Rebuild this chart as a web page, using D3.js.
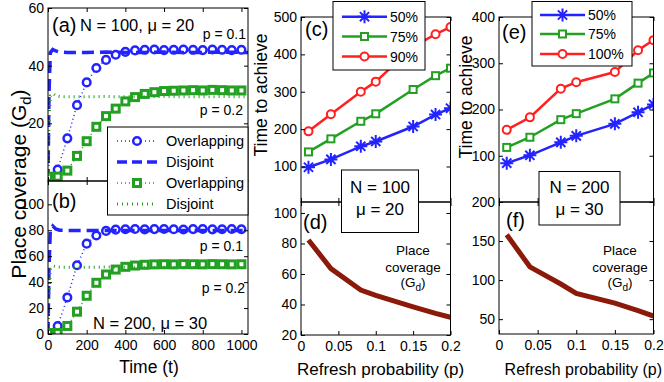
<!DOCTYPE html>
<html>
<head>
<meta charset="utf-8">
<script src="https://cdn.jsdelivr.net/npm/d3@7"></script>
<style>
  body { margin: 0; background: #fff; }
  svg { display: block; }
</style>
</head>
<body>
<svg id="chart" width="664" height="382"></svg>
<script>
// ---- values ----
const timeSteps = [0, 50, 100, 150, 200, 250, 300, 350, 400, 450, 500, 550, 600, 650, 700, 750, 800, 850, 900, 950, 1000];
// (a) N = 100, mu = 20
const overlapA01 = [1.5, 4, 14.8, 26.3, 34.2, 39.2, 42, 43.8, 44.8, 45.3, 45.5, 45.6, 45.4, 45.5, 45.6, 45.5, 45.4, 45.6, 45.5, 45.4, 45.5];
const overlapA02 = [1.5, 1.5, 3.6, 8.7, 13.8, 18.8, 22.5, 25.1, 27.6, 29.1, 30.2, 30.8, 31.2, 31.3, 31.4, 31.5, 31.4, 31.6, 31.5, 31.4, 31.4];
// (b) N = 200, mu = 30
const overlapB01 = [1, 6.2, 28.2, 53, 69.7, 76, 79.5, 80.5, 80.8, 81, 80.7, 80.9, 81, 80.8, 80.6, 80.9, 81, 80.7, 80.8, 81, 80.8];
const overlapB02 = [0.8, 0.8, 6.2, 17.2, 29.5, 39.5, 45.9, 49.7, 51.8, 52.8, 53.4, 53.7, 53.8, 53.7, 53.9, 53.8, 53.7, 53.9, 53.8, 53.7, 53.8];

const disjointTimes = [0, 5, 12, 25, 40, 60, 100, 200, 300, 400, 500, 600, 700, 800, 900, 1000, 1034];
const disjointA01 = [0, 30, 44.5, 45.6, 45.1, 44.7, 44.6, 44.6, 44.7, 44.6, 44.6, 44.7, 44.6, 44.6, 44.7, 44.6, 44.6];
const disjointA02 = [0, 20, 29.5, 30.3, 29.6, 29.3, 29.2, 29.2, 29.3, 29.2, 29.2, 29.3, 29.2, 29.2, 29.3, 29.2, 29.2];
const disjointB01 = [0, 50, 80, 83.3, 81, 80, 79.8, 79.8, 79.9, 79.8, 79.8, 79.9, 79.8, 79.8, 79.9, 79.8, 79.8];
const disjointB02 = [0, 30, 50, 52.5, 52, 51.6, 51.5, 51.5, 51.6, 51.5, 51.5, 51.6, 51.5, 51.5, 51.6, 51.5, 51.5];

// (c)-(f): refresh probability
const pValues = [0.01, 0.04, 0.08, 0.1, 0.15, 0.18, 0.2];
const timeC50 = [98, 119, 154, 167, 207, 239, 256];
const timeC75 = [139, 174, 221, 241, 306, 343, 363];
const timeC90 = [194, 240, 300, 327, 420, 454, 473];
const coverageD = [82.3, 63.5, 49.5, 46, 38.5, 34.2, 31.6];
const timeE50 = [84, 101, 129, 143, 169, 194, 211];
const timeE75 = [118, 140, 178, 191, 223, 257, 279];
const timeE100 = [156, 183, 245, 259, 281, 328, 350];
const coverageF = [158, 117, 95, 83, 70.5, 61, 54];

const ticksTime = [0, 200, 400, 600, 800, 1000];
const ticksP = [0, 0.05, 0.1, 0.15, 0.2];

const BLUE = "#2323ff", GREEN = "#22a022", RED = "#ff2020", MAROON = "#8b1a0a";
const FONT = "'Liberation Sans', Arial, Helvetica, sans-serif";

const svg = d3.select("#chart").attr("font-family", FONT);
svg.append("rect").attr("width", 664).attr("height", 382).attr("fill", "#fff");

// 1. Scales
const xTime = d3.scaleLinear().domain([0, 1034]).range([48, 248]);
const yA = d3.scaleLinear().domain([0, 60]).range([181, 8]);
const yB = d3.scaleLinear().domain([0, 118]).range([334, 181]);
const xC = d3.scaleLinear().domain([0, 0.2]).range([301, 450.5]);
const yC = d3.scaleLinear().domain([5, 500]).range([202, 17]);
const yD = d3.scaleLinear().domain([20, 107.2]).range([335, 202]);
const xE = d3.scaleLinear().domain([0, 0.2]).range([499, 653.5]);
const yE = d3.scaleLinear().domain([0, 400]).range([202, 17]);
const yF = d3.scaleLinear().domain([31, 200]).range([334, 202]);

// 2. Helpers
let clipCount = 0;
function clipped(x, y) {
  const id = "clip" + (clipCount++);
  svg.append("clipPath").attr("id", id).append("rect")
    .attr("x", x.range()[0]).attr("y", y.range()[1])
    .attr("width", x.range()[1] - x.range()[0]).attr("height", y.range()[0] - y.range()[1]);
  return svg.append("g").attr("clip-path", `url(#${id})`);
}

function styleAxis(g) {
  g.select(".domain").remove();
  g.attr("font-size", 14).attr("font-family", FONT);
  g.selectAll("line").attr("stroke", "#000");
  g.selectAll("text").attr("fill", "#000");
}

function frame(x, y, ticksX, ticksY, showX, showY = true) {
  const [x0, x1] = x.range(), [y1, y0] = y.range();
  svg.append("g").attr("transform", `translate(${x0},0)`)
    .call(d3.axisLeft(y).tickValues(ticksY).tickSize(-4).tickPadding(4).tickFormat(showY ? d3.format("") : ""))
    .call(styleAxis);
  svg.append("g").attr("transform", `translate(${x1},0)`)
    .call(d3.axisRight(y).tickValues(ticksY).tickSize(-4).tickFormat(""))
    .call(styleAxis);
  svg.append("g").attr("transform", `translate(0,${y1})`)
    .call(d3.axisBottom(x).tickValues(ticksX).tickSize(-4).tickPadding(6).tickFormat(showX ? d3.format("") : ""))
    .call(styleAxis);
  svg.append("g").attr("transform", `translate(0,${y0})`)
    .call(d3.axisTop(x).tickValues(ticksX).tickSize(-4).tickFormat(""))
    .call(styleAxis);
  svg.append("rect").attr("x", x0).attr("y", y0).attr("width", x1 - x0).attr("height", y1 - y0)
    .attr("fill", "none").attr("stroke", "#000").attr("stroke-width", 1);
}

const star = r => {
  const d = r * 0.7071;
  return `M0,${-r}L0,${r}M${-r},0L${r},0M${-d},${-d}L${d},${d}M${-d},${d}L${d},${-d}`;
};

function marker(g, type, color, cx, cy, big) {
  if (type === "circle") {
    g.append("circle").attr("cx", cx).attr("cy", cy).attr("r", big ? 3.8 : 4)
      .attr("fill", "#fff").attr("stroke", color).attr("stroke-width", big ? 2.5 : 2);
  } else if (type === "square") {
    const s = 7;
    g.append("rect").attr("x", cx - s / 2).attr("y", cy - s / 2).attr("width", s).attr("height", s)
      .attr("fill", "#fff").attr("stroke", color).attr("stroke-width", big ? 3 : 2);
  } else {
    g.append("path").attr("d", star(6.5)).attr("transform", `translate(${cx},${cy})`)
      .attr("fill", "none").attr("stroke", color).attr("stroke-width", 2);
  }
}

function series(g, xs, ys, x, y, opts) {
  const line = d3.line().x((d, i) => x(xs[i])).y(d => y(d));
  g.append("path").datum(ys).attr("d", line).attr("fill", "none")
    .attr("stroke", opts.color).attr("stroke-width", opts.width)
    .attr("stroke-dasharray", opts.dash || null);
  if (opts.marker) ys.forEach((v, i) => marker(g, opts.marker, opts.color, x(xs[i]), y(v), opts.big));
}

function text(x, y, str, size, anchor = "start") {
  return svg.append("text").attr("x", x).attr("y", y).attr("font-size", size)
    .attr("text-anchor", anchor).attr("fill", "#000").text(str);
}

// 3. Panels (a) and (b)
const gA = clipped(xTime, yA);
series(gA, timeSteps, overlapA01, xTime, yA, { color: BLUE, width: 1.5, dash: "1,3", marker: "circle", big: true });
series(gA, disjointTimes, disjointA01, xTime, yA, { color: BLUE, width: 3.5, dash: "12,6" });
series(gA, timeSteps, overlapA02, xTime, yA, { color: GREEN, width: 1.5, dash: "1,3", marker: "square", big: true });
series(gA, disjointTimes, disjointA02, xTime, yA, { color: GREEN, width: 3, dash: "1,4" });

const gB = clipped(xTime, yB);
series(gB, timeSteps, overlapB01, xTime, yB, { color: BLUE, width: 1.5, dash: "1,3", marker: "circle", big: true });
series(gB, disjointTimes, disjointB01, xTime, yB, { color: BLUE, width: 3.5, dash: "12,6" });
series(gB, timeSteps, overlapB02, xTime, yB, { color: GREEN, width: 1.5, dash: "1,3", marker: "square", big: true });
series(gB, disjointTimes, disjointB02, xTime, yB, { color: GREEN, width: 3, dash: "1,4" });

frame(xTime, yA, ticksTime, [20, 40, 60], false);
frame(xTime, yB, ticksTime, [0, 20, 40, 60, 80, 100], true);

text(52, 32, "(a)", 20);
text(80, 31, "N = 100, μ = 20", 16.5);
text(246, 39, "p = 0.1", 14, "end");
text(243, 115, "p = 0.2", 14, "end");
text(52, 208, "(b)", 20);
text(243, 251, "p = 0.1", 14, "end");
text(245, 293, "p = 0.2", 14, "end");
text(93, 329, "N = 200, μ = 30", 16.5);

// legend for (a)/(b)
const legAB = svg.append("g");
legAB.append("rect").attr("x", 107.5).attr("y", 127).attr("width", 140.5).attr("height", 88)
  .attr("fill", "#fff").attr("stroke", "#000");
const legItems = [
  { label: "Overlapping", color: BLUE, width: 1.5, dash: "1,3", marker: "circle" },
  { label: "Disjoint", color: BLUE, width: 3.5, dash: "10,5" },
  { label: "Overlapping", color: GREEN, width: 1.5, dash: "1,3", marker: "square" },
  { label: "Disjoint", color: GREEN, width: 3, dash: "1,4" }
];
legItems.forEach((d, i) => {
  const y = 141 + i * 21;
  legAB.append("line").attr("x1", 117).attr("x2", 157).attr("y1", y).attr("y2", y)
    .attr("stroke", d.color).attr("stroke-width", d.width).attr("stroke-dasharray", d.dash);
  if (d.marker) marker(legAB, d.marker, d.color, 137, y, true);
  legAB.append("text").attr("x", 166).attr("y", y + 5).attr("font-size", 14.5).text(d.label);
});

// 4. Panels (c) and (d)
const gC = clipped(xC, yC);
series(gC, pValues, timeC50, xC, yC, { color: BLUE, width: 2.5, marker: "star" });
series(gC, pValues, timeC75, xC, yC, { color: GREEN, width: 2.5, marker: "square" });
series(gC, pValues, timeC90, xC, yC, { color: RED, width: 2.5, marker: "circle" });
const gD = clipped(xC, yD);
series(gD, pValues, coverageD, xC, yD, { color: MAROON, width: 5 });

frame(xC, yC, ticksP, [100, 200, 300, 400, 500], false);
frame(xC, yD, ticksP, [20, 40, 60, 80, 100], true);

// 5. Panels (e) and (f)
const gE = clipped(xE, yE);
series(gE, pValues, timeE50, xE, yE, { color: BLUE, width: 2.5, marker: "star" });
series(gE, pValues, timeE75, xE, yE, { color: GREEN, width: 2.5, marker: "square" });
series(gE, pValues, timeE100, xE, yE, { color: RED, width: 2.5, marker: "circle" });
const gF = clipped(xE, yF);
series(gF, pValues, coverageF, xE, yF, { color: MAROON, width: 5 });

frame(xE, yE, ticksP, [100, 200, 300, 400], false);
frame(xE, yF, ticksP, [50, 100, 150, 200], true);

// legends for (c) and (e)
function pctLegend(x, y, w, h, rows, lineX, labels) {
  const g = svg.append("g");
  g.append("rect").attr("x", x).attr("y", y).attr("width", w).attr("height", h)
    .attr("fill", "#fff").attr("stroke", "#000");
  const colors = [BLUE, GREEN, RED], marks = ["star", "square", "circle"];
  rows.forEach((ry, i) => {
    g.append("line").attr("x1", lineX).attr("x2", lineX + 45).attr("y1", ry).attr("y2", ry)
      .attr("stroke", colors[i]).attr("stroke-width", 2.5);
    marker(g, marks[i], colors[i], lineX + 22.5, ry, false);
    g.append("text").attr("x", lineX + 48).attr("y", ry + 5).attr("font-size", 14).text(labels[i]);
  });
}
pctLegend(333, 1.5, 92, 68.5, [16.7, 36.5, 56.5], 342, ["50%", "75%", "90%"]);
pctLegend(532, 1.5, 100, 64.5, [15, 34, 54], 540, ["50%", "75%", "100%"]);

// parameter boxes
function paramBox(x, y, w, h, l1, l2) {
  svg.append("rect").attr("x", x).attr("y", y).attr("width", w).attr("height", h)
    .attr("fill", "#fff").attr("stroke", "#000");
  text(x + w / 2, 193, l1, 17, "middle");
  text(x + w / 2, 215, l2, 17, "middle");
}
paramBox(341.5, 170, 77, 62.5, "N = 100", "μ = 20");
paramBox(539, 171.5, 81, 53.5, "N = 200", "μ = 30");

text(305, 36, "(c)", 20);
text(303, 229, "(d)", 20);
text(502, 39, "(e)", 20);
text(506, 227, "(f)", 20);

function coverageNote(cx) {
  text(cx, 255, "Place", 13.5, "middle");
  text(cx, 271.5, "coverage", 13.5, "middle");
  const t = text(cx, 286.5, "(G", 13.5, "middle");
  t.append("tspan").attr("dy", 4).attr("font-size", 10).text("d");
  t.append("tspan").attr("dy", -4).text(")");
}
coverageNote(413);
coverageNote(620);

// 6. Axis labels
const yl = svg.append("text").attr("transform", "translate(26,184) rotate(-90)")
  .attr("text-anchor", "middle").attr("font-size", 21).text("Place coverage (G");
yl.append("tspan").attr("dy", 5).attr("font-size", 15).text("d");
yl.append("tspan").attr("dy", -5).text(")");

svg.append("text").attr("transform", "translate(267,95) rotate(-90)")
  .attr("text-anchor", "middle").attr("font-size", 17.5).text("Time to achieve");
svg.append("text").attr("transform", "translate(472,97) rotate(-90)")
  .attr("text-anchor", "middle").attr("font-size", 17.5).text("Time to achieve");

text(149, 373, "Time (t)", 17.5, "middle");
text(297, 375, "Refresh probability (p)", 17);
text(662, 375, "Refresh probability (p)", 16, "end");
</script>
</body>
</html>
